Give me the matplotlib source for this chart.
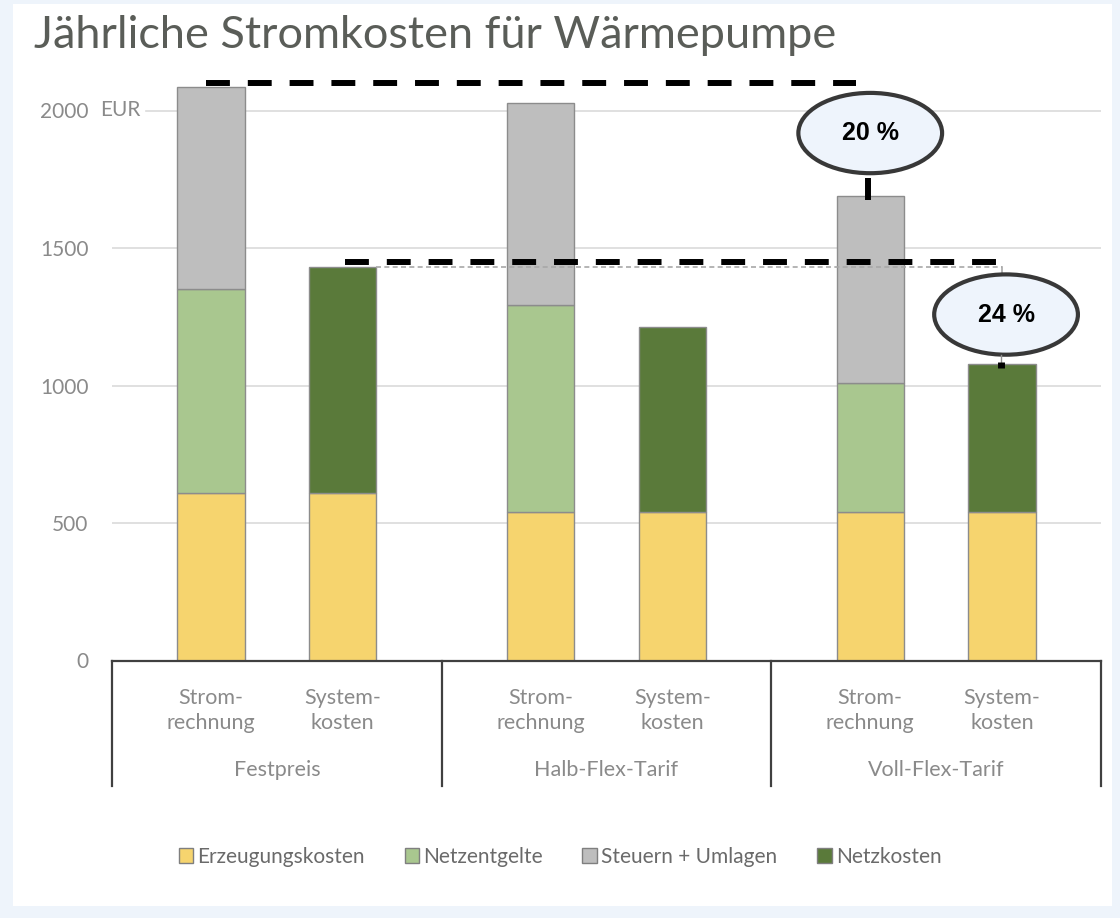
import numpy as np
import matplotlib.pyplot as plt
from matplotlib.patches import Patch, Ellipse, Rectangle

plt.rcParams['font.family'] = ['Lato', 'DejaVu Sans']

# data (EUR per year)
groups = ['Festpreis', 'Halb-Flex-Tarif', 'Voll-Flex-Tarif']
bar_labels = ['Strom-\nrechnung', 'System-\nkosten']
erzeugung = [609, 609, 540, 540, 540, 540]
netzentgelte = [742, 0, 753, 0, 469, 0]
steuern = [735, 0, 733, 0, 680, 0]
netzkosten = [0, 823, 0, 674, 0, 538]
series_names = ['Erzeugungskosten', 'Netzentgelte', 'Steuern + Umlagen', 'Netzkosten']
savings = ['20 %', '24 %']

colors = ['#F6D46E', '#A9C78F', '#BEBEBE', '#5A7A3A']

W, H = 1120, 918
fig = plt.figure(figsize=(W / 100, H / 100), dpi=100, facecolor='#EEF4FB')
fig.patches.append(Rectangle((13 / W, 1 - 906 / H), (1112 - 13) / W, (906 - 4) / H,
                             transform=fig.transFigure, facecolor='white',
                             edgecolor='none', zorder=-10))

ax = fig.add_axes([112 / W, 1 - 660.5 / H, (1101 - 112) / W, 605 / H])
ax.set_facecolor('none')

# bar positions: 2 bars per group, extra gap between groups
x = np.array([g * 2.5 + k - 0.5 for g in range(len(groups)) for k in range(len(bar_labels))])
width = 0.51

bottom = np.zeros(len(x))
for vals, color in zip([erzeugung, netzentgelte, steuern, netzkosten], colors):
    vals = np.array(vals, dtype=float)
    m = vals > 0
    ax.bar(x[m], vals[m], width, bottom=bottom[m], color=color,
           edgecolor='#8c8c8c', linewidth=1, zorder=3)
    bottom += vals

ax.set_xlim(-1.25, 6.25)
ax.set_ylim(0, 2200)
yticks = [0, 500, 1000, 1500, 2000]
ax.set_yticks(yticks)
ax.set_yticklabels([str(t) for t in yticks])
ax.tick_params(axis='y', length=0, pad=17, labelsize=15, labelcolor='#8a8a8a')
ax.set_xticks([])
for s in ax.spines.values():
    s.set_visible(False)

for t in yticks[1:]:
    ax.axhline(t, xmin=0.034 if t == 2000 else 0, color='#dadada', lw=1.2, zorder=0)
ax.annotate('EUR', xy=(0, 2000), xycoords=('axes fraction', 'data'), xytext=(-12, 0),
            textcoords='offset pixels', ha='left', va='center', fontsize=15, color='#8a8a8a')

# category axis with group separators
trans = ax.get_xaxis_transform()
edges = [-1.25, 1.25, 3.75, 6.25]
ax.plot([edges[0], edges[-1]], [0, 0], transform=trans, color='#404040', lw=1.6,
        clip_on=False, zorder=4)
for e in edges:
    ax.plot([e, e], [0, -0.2074], transform=trans, color='#404040', lw=1.6, clip_on=False)

for i, xi in enumerate(x):
    ax.annotate(bar_labels[i % 2], xy=(xi, 0), xycoords=('data', 'axes fraction'),
                xytext=(0, -50), textcoords='offset pixels', ha='center', va='center',
                fontsize=15.5, color='#8a8a8a', linespacing=1.32)
for g, name in enumerate(groups):
    ax.annotate(name, xy=(g * 2.5, 0), xycoords=('data', 'axes fraction'),
                xytext=(0, -110), textcoords='offset pixels', ha='center', va='center',
                fontsize=15.5, color='#8a8a8a')

# reference lines
totals = bottom
top_ref = totals[0]
sys_ref = totals[1]
ax.plot([x[1] + width / 2, x[5]], [sys_ref, sys_ref], color='#a8a8a8', lw=1.2,
        dashes=(3, 2), zorder=4)
ax.plot([x[5], x[5]], [sys_ref, sys_ref - 25], color='#a8a8a8', lw=1.2, zorder=4)
ax.plot([x[0] - 0.04, x[4] - 0.11], [top_ref + 13, top_ref + 13], color='black', lw=4.3,
        dashes=(4, 3), dash_capstyle='butt', zorder=6)
ax.plot([x[1] + 0.02, x[5] - 0.03], [sys_ref + 17, sys_ref + 17], color='black', lw=4.3,
        dashes=(4, 3), dash_capstyle='butt', zorder=6)

# savings bubbles
bubbles = [(x[4], 1918, savings[0]), (x[5] + 0.03, 1258, savings[1])]
for bx, by, txt in bubbles:
    ax.add_patch(Ellipse((bx, by), 1.09, 292, facecolor='#EEF4FC', edgecolor='#383838',
                         lw=3, zorder=7))
    ax.text(bx, by, txt, ha='center', va='center', fontsize=18, fontweight='bold',
            family='Liberation Sans', color='black', zorder=8)
ax.plot([x[4] - 0.02, x[4] - 0.02], [1755, 1675], color='black', lw=4.3,
        solid_capstyle='butt', zorder=8)
ax.plot([x[5] - 0.01, x[5] - 0.01], [1112, 1085], color='#909090', lw=1, zorder=8)
ax.plot([x[5] - 0.01, x[5] - 0.01], [1086, 1063], color='black', lw=5,
        solid_capstyle='butt', zorder=8)

# legend
handles = [Patch(facecolor=c, edgecolor='#7f7f7f', lw=1) for c in colors]
fig.legend(handles, series_names, loc='center', bbox_to_anchor=(0.5, 1 - 857 / H), ncol=4,
           frameon=False, fontsize=15, handlelength=0.7, handleheight=0.7,
           handletextpad=0.2, columnspacing=1.9, labelcolor='#6a6a6a')

fig.text(34 / W, 1 - 48 / H, 'Jährliche Stromkosten für Wärmepumpe', fontsize=32.5,
         color='#5a5d58', va='baseline')

fig.savefig('out.png', dpi=100, facecolor=fig.get_facecolor())
